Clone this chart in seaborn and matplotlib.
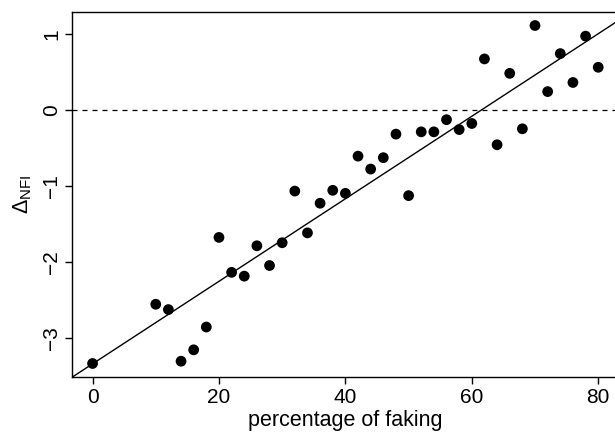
import numpy as np
import pandas as pd
import matplotlib
matplotlib.use("Agg")
import matplotlib.pyplot as plt
import seaborn as sns

faking = [0, 10, 12, 14, 16, 18, 20, 22, 24, 26, 28, 30, 32, 34, 36, 38, 40,
          42, 44, 46, 48, 50, 52, 54, 56, 58, 60, 62, 64, 66, 68, 70, 72, 74,
          76, 78, 80]
delta_nfi = [-3.34, -2.56, -2.63, -3.31, -3.16, -2.86, -1.68, -2.14, -2.19,
             -1.79, -2.05, -1.75, -1.07, -1.62, -1.23, -1.06, -1.10,
             -0.61, -0.78, -0.63, -0.32, -1.13, -0.29, -0.29, -0.13, -0.26,
             -0.18, 0.67, -0.46, 0.48, -0.25, 1.11, 0.24, 0.74, 0.36, 0.97,
             0.56]
xticks = [0, 20, 40, 60, 80]
yticks = [-3, -2, -1, 0, 1]

df = pd.DataFrame({"faking": faking, "delta": delta_nfi})

sns.set_style("ticks")
plt.rcParams["font.family"] = ["Liberation Sans", "DejaVu Sans"]
plt.rcParams["mathtext.fontset"] = "custom"
plt.rcParams["mathtext.rm"] = "Liberation Sans"
plt.rcParams["mathtext.it"] = "Liberation Sans"
plt.rcParams["axes.unicode_minus"] = True
plt.rcParams["text.color"] = "black"
plt.rcParams["axes.labelcolor"] = "black"

fig = plt.figure(figsize=(6.15, 4.33), dpi=100)
ax = fig.add_axes([0.1176, 0.1293, 0.888, 0.843])

sns.scatterplot(data=df, x="faking", y="delta", ax=ax, color="black",
                s=60, edgecolor="none", zorder=3)

slope, intercept = np.polyfit(df["faking"], df["delta"], 1)
ax.axline((0, intercept), slope=slope, color="black", lw=1.0)
ax.axhline(0, color="black", lw=0.9, ls=(0, (4, 4)))

xr = max(faking) - min(faking)
yr = max(delta_nfi) - min(delta_nfi)
ax.set_xlim(min(faking) - 0.04 * xr, max(faking) + 0.04 * xr)
ax.set_ylim(min(delta_nfi) - 0.04 * yr, max(delta_nfi) + 0.04 * yr)

ax.set_xticks(xticks)
ax.set_yticks(yticks)
ax.set_yticklabels(["\u2212" + str(-v) if v < 0 else str(v) for v in yticks],
                   rotation=90, va="center")
ax.tick_params(axis="both", direction="out", length=5, width=1,
               labelsize=15, color="black", labelcolor="black", pad=3)
for sp in ax.spines.values():
    sp.set_visible(True)
    sp.set_color("black")
    sp.set_linewidth(1.0)

ax.set_xlabel("percentage of faking", fontsize=15.5, labelpad=2, color="black")
ax.set_ylabel(r"$\Delta_{\mathrm{NFI}}$", fontsize=15.5, labelpad=6, color="black")

fig.savefig("out.png", dpi=100)
